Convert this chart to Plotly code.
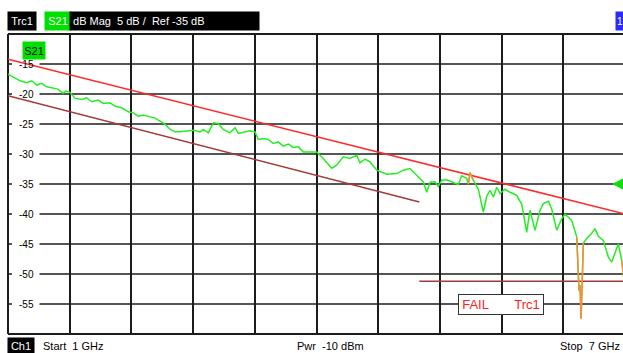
import numpy as np
import plotly.graph_objects as go

# Sweep settings
f_start_ghz = 1.0
f_stop_ghz = 7.0
ref_level_db = -35
scale_db_per_div = 5
power_dbm = -10
y_min_db, y_max_db = -60, -10

# Measured S21 magnitude (GHz, dB)
trace_f = [
    1.000, 1.019, 1.068, 1.117, 1.182, 1.230, 1.279, 1.328, 1.376, 1.438,
    1.486, 1.535, 1.564, 1.603, 1.652, 1.717, 1.765, 1.814, 1.878, 1.924,
    1.992, 2.041, 2.106, 2.170, 2.219, 2.267, 2.316, 2.381, 2.430, 2.478,
    2.527, 2.575, 2.624, 2.673, 2.731, 2.802, 2.867, 2.899, 2.948, 2.997,
    3.045, 3.094, 3.159, 3.208, 3.240, 3.305, 3.353, 3.402, 3.434, 3.483,
    3.531, 3.580, 3.629, 3.677, 3.726, 3.774, 3.823, 3.872, 3.937, 4.002,
    4.066, 4.148, 4.196, 4.261, 4.326, 4.391, 4.423, 4.472, 4.520, 4.586,
    4.683, 4.780, 4.844, 4.909, 4.990, 5.039, 5.072, 5.104, 5.153, 5.185,
    5.218, 5.266, 5.347, 5.379, 5.412, 5.461, 5.476, 5.493, 5.525, 5.574,
    5.622, 5.655, 5.687, 5.720, 5.753, 5.785, 5.833, 5.882, 5.947, 5.996,
    6.044, 6.076, 6.125, 6.174, 6.206, 6.255, 6.288, 6.336, 6.385, 6.417,
    6.482, 6.531, 6.553, 6.563, 6.573, 6.595, 6.628, 6.676, 6.708, 6.741,
    6.789, 6.838, 6.871, 6.903, 6.935, 6.968, 7.000,
]
trace_db = [
    -16.68, -16.84, -17.35, -17.80, -18.13, -17.80, -18.51, -18.23, -18.80, -18.96,
    -19.18, -19.90, -19.52, -19.73, -20.73, -20.90, -20.63, -21.30, -21.02, -21.57,
    -21.47, -22.02, -22.30, -22.97, -23.14, -23.69, -23.52, -23.81, -24.02, -24.52,
    -25.03, -25.86, -26.31, -26.31, -26.19, -26.03, -26.31, -25.91, -26.48, -24.81,
    -24.91, -25.91, -26.48, -25.64, -26.58, -26.31, -26.14, -26.31, -27.58, -27.41,
    -27.58, -28.25, -27.98, -28.70, -28.36, -28.91, -28.81, -29.65, -29.70, -29.65,
    -30.75, -32.37, -31.87, -30.48, -30.75, -30.20, -31.49, -30.87, -31.32, -32.70,
    -33.37, -33.26, -32.70, -32.42, -33.82, -34.66, -36.38, -34.71, -34.62, -35.38,
    -34.37, -34.29, -34.87, -35.09, -33.62, -34.04, -35.04, -33.12, -34.37, -35.88,
    -39.67, -37.05, -36.04, -37.16, -35.54, -36.59, -35.88, -36.38, -36.88, -38.38,
    -43.06, -39.38, -42.72, -39.38, -38.26, -37.88, -39.22, -42.72, -40.77, -40.05,
    -41.05, -43.84, -52.74, -51.90, -57.41, -44.89, -44.06, -43.22, -42.44, -43.72,
    -44.39, -47.18, -48.01, -46.61, -44.94, -47.73, -52.40,
]

# Limit lines (GHz, dB)
upper_limit_f = [1.0, 7.0]
upper_limit_db = [-14.2, -40.0]
lower_limit_f = [1.0, 5.0]
lower_limit_db = [-20.3, -38.0]
floor_limit_f = [5.0, 7.0]
floor_limit_db = [-51.2, -51.2]

y_tick_labels = [-15, -20, -25, -30, -35, -40, -45, -50, -55]

GRID = "#1c1c1c"
GREEN = "#22ee22"
ORANGE = "#ff8a3d"
FONT = "Liberation Sans, Arial, sans-serif"

# Limit check: a point fails when above the upper line or below the lower line
f = np.array(trace_f)
m = np.array(trace_db)
upper = np.interp(f, upper_limit_f, upper_limit_db)
lower = np.where(f < lower_limit_f[1],
                 np.interp(f, lower_limit_f, lower_limit_db),
                 np.interp(f, floor_limit_f, floor_limit_db))
fail = (m > upper) | (m < lower)

fail_x, fail_y = [], []
for i in range(len(f) - 1):
    if fail[i] or fail[i + 1]:
        fail_x += [f[i], f[i + 1], None]
        fail_y += [m[i], m[i + 1], None]

fig = go.Figure()

fig.add_trace(go.Scatter(x=upper_limit_f, y=upper_limit_db, mode="lines",
                         line=dict(color="#ff2a2a", width=1.5), hoverinfo="skip"))
fig.add_trace(go.Scatter(x=lower_limit_f, y=lower_limit_db, mode="lines",
                         line=dict(color="#a33a3a", width=1.5), hoverinfo="skip"))
fig.add_trace(go.Scatter(x=floor_limit_f, y=floor_limit_db, mode="lines",
                         line=dict(color="#a33a3a", width=1.5), hoverinfo="skip"))
fig.add_trace(go.Scatter(x=trace_f, y=trace_db, mode="lines",
                         line=dict(color=GREEN, width=1.5), hoverinfo="skip"))
fig.add_trace(go.Scatter(x=fail_x, y=fail_y, mode="lines",
                         line=dict(color=ORANGE, width=1.5), hoverinfo="skip"))

# Layout geometry
W, H = 623, 353
ml, mr, mt, mb = 8, 0, 34, 19
plot_w = W - ml - mr
span_px = 617  # full 10-division grid width; last division runs past the window edge
x_end = f_start_ghz + (f_stop_ghz - f_start_ghz) * plot_w / span_px
x_div = (f_stop_ghz - f_start_ghz) / 10

fig.update_xaxes(range=[f_start_ghz, x_end], tick0=f_start_ghz, dtick=x_div,
                 showgrid=True, gridcolor=GRID, gridwidth=1.5,
                 showticklabels=False, zeroline=False, showline=False, ticks="")
fig.update_yaxes(range=[y_min_db, y_max_db],
                 showgrid=False,
                 showticklabels=False, zeroline=False, showline=False, ticks="")


def px_x(px):
    return (px - ml) / plot_w


def px_y(py):
    return (H - mb - py) / (H - mt - mb)


shapes = [
    dict(type="line", xref="paper", yref="paper", x0=0, x1=0, y0=0, y1=1,
         line=dict(color=GRID, width=2), layer="below"),
    dict(type="line", xref="paper", yref="paper", x0=0, x1=1, y0=1, y1=1,
         line=dict(color=GRID, width=2), layer="below"),
    dict(type="line", xref="paper", yref="paper", x0=0, x1=1, y0=0, y1=0,
         line=dict(color=GRID, width=2), layer="below"),
]
# Horizontal grid lines, interrupted where the level labels sit
for v in y_tick_labels:
    for x0, x1 in ((0, px_x(12)), (px_x(39.5), 1)):
        shapes.append(dict(type="line", xref="paper", yref="y", x0=x0, x1=x1,
                           y0=v, y1=v, line=dict(color=GRID, width=1.5),
                           layer="below"))

# Reference level marker at the right edge
tri_w = 10 / plot_w
tri_h = 0.85
shapes.append(dict(
    type="path", xref="paper", yref="y",
    path=f"M {1 - tri_w},{ref_level_db} L 1,{ref_level_db + tri_h} L 1,{ref_level_db - tri_h} Z",
    fillcolor="#11dd11", line=dict(color="#11dd11", width=1)))

annotations = []
for v in y_tick_labels:
    annotations.append(dict(x=px_x(26), y=v, xref="paper", yref="y",
                            xanchor="center", yanchor="middle",
                            text=str(v), showarrow=False,
                            font=dict(family=FONT, size=10, color="black")))

NB = "\u00a0"


def box(xl, yc, text, bg, fg, w, h, size=11, align="center"):
    annotations.append(dict(x=xl, y=yc, xref="paper", yref="paper", text=text,
                            showarrow=False, bgcolor=bg, width=w, height=h,
                            borderpad=0, align=align, xanchor="left",
                            yanchor="middle",
                            font=dict(family=FONT, size=size, color=fg)))


# Header
box(px_x(7), px_y(21.5), "Trc1", "black", "white", 28, 18)
box(px_x(43.5), px_y(21.5), "S21", "#00e000", "white", 26, 18)
box(px_x(69), px_y(21.5),
    f"{NB}dB Mag{NB}{NB}{scale_db_per_div} dB /{NB}{NB}Ref {ref_level_db} dB",
    "black", "white", 189, 18, align="left")
box(px_x(615), px_y(21.5), "1", "#2b2bff", "white", 8, 18, size=10)

# Trace label inside the diagram
box(px_x(21.5), px_y(50), "S21", "#00e000", "black", 22, 17)

# Footer
box(px_x(7), px_y(346), "Ch1", "black", "white", 26, 16)
annotations.append(dict(x=px_x(41), y=px_y(346), xref="paper", yref="paper",
                        text=f"Start{NB}{NB}{f_start_ghz:g} GHz", showarrow=False,
                        xanchor="left", yanchor="middle",
                        font=dict(family=FONT, size=11, color="black")))
annotations.append(dict(x=px_x(331), y=px_y(346), xref="paper", yref="paper",
                        text=f"Pwr{NB}{NB}{power_dbm} dBm", showarrow=False,
                        xanchor="center", yanchor="middle",
                        font=dict(family=FONT, size=11, color="black")))
annotations.append(dict(x=px_x(622), y=px_y(346), xref="paper", yref="paper",
                        text=f"Stop{NB}{NB}{f_stop_ghz:g} GHz", showarrow=False,
                        xanchor="right", yanchor="middle",
                        font=dict(family=FONT, size=11, color="black")))

# Limit check result
if fail.any():
    annotations.append(dict(x=px_x(501), y=px_y(304.7), xref="paper", yref="paper",
                            xanchor="center", yanchor="middle",
                            text="FAIL" + NB * 7 + "Trc1", showarrow=False,
                            bgcolor="white", bordercolor="#333333", borderwidth=1,
                            width=84, height=19, borderpad=0,
                            font=dict(family=FONT, size=13, color="#ff2020")))

fig.update_layout(
    width=W, height=H,
    margin=dict(l=ml, r=mr, t=mt, b=mb, pad=0),
    paper_bgcolor="white", plot_bgcolor="white",
    showlegend=False,
    shapes=shapes,
    annotations=annotations,
)

fig.write_html("out.html", config={"displayModeBar": False})
